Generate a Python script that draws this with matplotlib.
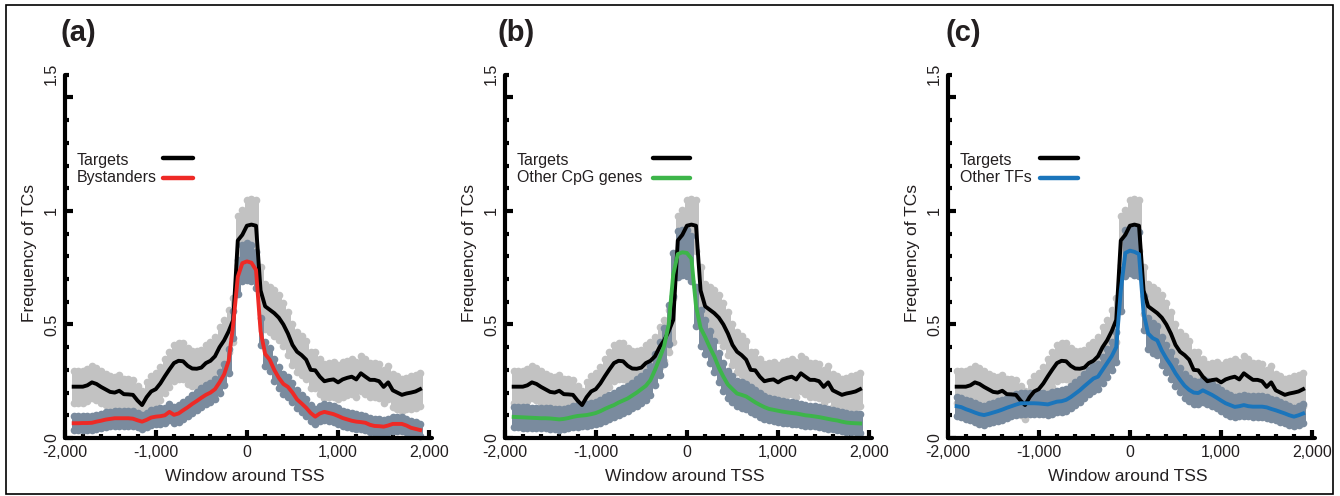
import numpy as np
import matplotlib
matplotlib.use('Agg')
import matplotlib.pyplot as plt
from matplotlib.patches import Rectangle

plt.rcParams['font.family'] = ['Liberation Sans', 'DejaVu Sans']

# 50 bp bins around the TSS
window = np.arange(-1900, 1901, 50)

targets = [0.226, 0.226, 0.226, 0.232, 0.245, 0.238, 0.225, 0.214, 0.203, 0.200,
           0.208, 0.193, 0.192, 0.190, 0.165, 0.145, 0.180, 0.205, 0.215, 0.240,
           0.272, 0.302, 0.330, 0.340, 0.338, 0.318, 0.306, 0.305, 0.310, 0.330,
           0.340, 0.360, 0.400, 0.430, 0.470, 0.520, 0.870, 0.895, 0.935, 0.940,
           0.935, 0.650, 0.580, 0.565, 0.550, 0.530, 0.500, 0.460, 0.410, 0.380,
           0.365, 0.345, 0.300, 0.298, 0.270, 0.250, 0.255, 0.258, 0.245, 0.258,
           0.265, 0.270, 0.258, 0.285, 0.270, 0.256, 0.256, 0.250, 0.225, 0.245,
           0.210, 0.200, 0.190, 0.196, 0.200, 0.205, 0.215]
targets_err = [0.070, 0.070, 0.070, 0.070, 0.070, 0.070, 0.070, 0.068, 0.068, 0.068,
               0.068, 0.066, 0.066, 0.066, 0.064, 0.062, 0.066, 0.068, 0.070, 0.072,
               0.075, 0.078, 0.080, 0.080, 0.080, 0.078, 0.078, 0.078, 0.078, 0.080,
               0.082, 0.085, 0.088, 0.090, 0.092, 0.095, 0.110, 0.110, 0.112, 0.112,
               0.112, 0.105, 0.100, 0.100, 0.100, 0.098, 0.096, 0.094, 0.090, 0.088,
               0.086, 0.084, 0.080, 0.080, 0.078, 0.076, 0.076, 0.076, 0.075, 0.076,
               0.076, 0.077, 0.076, 0.078, 0.077, 0.076, 0.076, 0.075, 0.073, 0.074,
               0.072, 0.071, 0.070, 0.070, 0.071, 0.071, 0.072]

bystanders = [0.065, 0.065, 0.066, 0.066, 0.067, 0.072, 0.076, 0.081, 0.084, 0.087,
              0.087, 0.087, 0.087, 0.085, 0.078, 0.072, 0.080, 0.090, 0.094, 0.096,
              0.100, 0.115, 0.102, 0.108, 0.122, 0.135, 0.150, 0.163, 0.177, 0.190,
              0.200, 0.215, 0.245, 0.280, 0.340, 0.500, 0.710, 0.770, 0.778, 0.772,
              0.740, 0.470, 0.370, 0.345, 0.300, 0.265, 0.238, 0.225, 0.200, 0.170,
              0.152, 0.133, 0.110, 0.094, 0.108, 0.115, 0.110, 0.105, 0.097, 0.088,
              0.082, 0.076, 0.072, 0.070, 0.067, 0.058, 0.053, 0.052, 0.050, 0.055,
              0.062, 0.062, 0.062, 0.055, 0.045, 0.040, 0.035]
bystanders_err = [0.030, 0.030, 0.030, 0.030, 0.030, 0.031, 0.031, 0.032, 0.032, 0.032,
                  0.032, 0.032, 0.032, 0.032, 0.031, 0.031, 0.032, 0.033, 0.033, 0.034,
                  0.034, 0.035, 0.035, 0.036, 0.037, 0.038, 0.039, 0.040, 0.041, 0.042,
                  0.043, 0.044, 0.046, 0.048, 0.052, 0.060, 0.075, 0.080, 0.082, 0.080,
                  0.078, 0.060, 0.052, 0.050, 0.048, 0.046, 0.044, 0.043, 0.042, 0.040,
                  0.039, 0.037, 0.035, 0.034, 0.035, 0.035, 0.035, 0.034, 0.034, 0.033,
                  0.033, 0.032, 0.032, 0.032, 0.031, 0.030, 0.030, 0.030, 0.030, 0.030,
                  0.030, 0.030, 0.030, 0.030, 0.029, 0.029, 0.028]

cpg = [0.093, 0.092, 0.091, 0.090, 0.089, 0.088, 0.087, 0.087, 0.086, 0.084,
       0.082, 0.084, 0.088, 0.093, 0.097, 0.099, 0.101, 0.105, 0.110, 0.118,
       0.128, 0.137, 0.145, 0.156, 0.165, 0.174, 0.187, 0.200, 0.215, 0.230,
       0.255, 0.300, 0.350, 0.405, 0.500, 0.720, 0.810, 0.818, 0.815, 0.790,
       0.580, 0.485, 0.445, 0.400, 0.360, 0.310, 0.270, 0.235, 0.215, 0.196,
       0.190, 0.183, 0.170, 0.157, 0.146, 0.136, 0.128, 0.124, 0.120, 0.116,
       0.113, 0.110, 0.108, 0.104, 0.100, 0.098, 0.095, 0.092, 0.088, 0.084,
       0.080, 0.077, 0.072, 0.068, 0.066, 0.065, 0.064]
cpg_err = [0.045, 0.045, 0.045, 0.045, 0.045, 0.045, 0.045, 0.045, 0.045, 0.045,
           0.045, 0.045, 0.046, 0.046, 0.047, 0.047, 0.048, 0.048, 0.049, 0.050,
           0.051, 0.052, 0.053, 0.054, 0.055, 0.056, 0.057, 0.058, 0.060, 0.062,
           0.064, 0.068, 0.072, 0.078, 0.085, 0.095, 0.100, 0.100, 0.100, 0.098,
           0.085, 0.078, 0.074, 0.070, 0.068, 0.065, 0.062, 0.060, 0.058, 0.057,
           0.056, 0.055, 0.054, 0.053, 0.052, 0.051, 0.050, 0.049, 0.048, 0.048,
           0.047, 0.047, 0.046, 0.046, 0.045, 0.045, 0.044, 0.044, 0.043, 0.043,
           0.042, 0.042, 0.041, 0.041, 0.040, 0.040, 0.040]

tfs = [0.140, 0.136, 0.127, 0.120, 0.112, 0.105, 0.101, 0.106, 0.112, 0.118,
       0.125, 0.133, 0.140, 0.147, 0.153, 0.153, 0.153, 0.153, 0.152, 0.150,
       0.148, 0.154, 0.160, 0.162, 0.168, 0.180, 0.195, 0.210, 0.228, 0.245,
       0.262, 0.270, 0.300, 0.330, 0.360, 0.400, 0.650, 0.815, 0.825, 0.820,
       0.810, 0.550, 0.460, 0.440, 0.430, 0.385, 0.350, 0.320, 0.285, 0.256,
       0.230, 0.212, 0.200, 0.198, 0.210, 0.200, 0.190, 0.178, 0.165, 0.153,
       0.145, 0.137, 0.140, 0.145, 0.140, 0.138, 0.138, 0.138, 0.135, 0.128,
       0.122, 0.115, 0.108, 0.100, 0.094, 0.100, 0.108]
tfs_err = [0.042, 0.042, 0.042, 0.042, 0.042, 0.042, 0.042, 0.042, 0.043, 0.043,
           0.044, 0.044, 0.045, 0.045, 0.046, 0.046, 0.046, 0.046, 0.046, 0.046,
           0.046, 0.047, 0.047, 0.048, 0.048, 0.049, 0.050, 0.051, 0.052, 0.053,
           0.054, 0.055, 0.057, 0.060, 0.062, 0.066, 0.090, 0.100, 0.100, 0.100,
           0.098, 0.075, 0.068, 0.066, 0.065, 0.062, 0.060, 0.058, 0.056, 0.054,
           0.052, 0.051, 0.050, 0.050, 0.050, 0.050, 0.049, 0.048, 0.047, 0.046,
           0.046, 0.045, 0.045, 0.046, 0.045, 0.045, 0.045, 0.045, 0.045, 0.044,
           0.044, 0.043, 0.042, 0.041, 0.040, 0.041, 0.042]

panel_tags = ['(a)', '(b)', '(c)']
other_names = ['Bystanders', 'Other CpG genes', 'Other TFs']
other_vals = [bystanders, cpg, tfs]
other_errs = [bystanders_err, cpg_err, tfs_err]
other_colors = ['#EE2A26', '#3DB54A', '#1B75BB']

band_gray = '#C2C2C2'
band_slate = '#7A8B9E'
txt = '#231F20'

W, H = 1340, 496
fig = plt.figure(figsize=(W / 100, H / 100), dpi=100)

# pixel layout of panel (a); panels (b), (c) are shifted right
ax_left_px, ax_w_px = 50.9, 392.0
ax_top_px, ax_h_px = 56.6, 388.2
shifts = [0, 440, 883]
legend_line_x = [(0.286, 0.362), (0.413, 0.508), (0.271, 0.368)]
tag_x_px = [78, 516, 963]


def band(ax, y, e, color):
    y = np.asarray(y)
    e = np.asarray(e)
    ax.vlines(window, y - e, y + e, color=color, lw=3.6, zorder=2)
    ax.plot(window, y + e, 'o', color=color, ms=5.5, mec='none', zorder=2)
    ax.plot(window, y - e, 'o', color=color, ms=5.5, mec='none', zorder=2)


for i in range(3):
    left = (ax_left_px + shifts[i]) / W
    bottom = 1 - (ax_top_px + ax_h_px) / H
    ax = fig.add_axes([left, bottom, ax_w_px / W, ax_h_px / H])
    ax.set_xlim(-2150, 2150)
    ax.set_ylim(-0.03, 1.68)

    band(ax, targets, targets_err, band_gray)
    band(ax, other_vals[i], other_errs[i], band_slate)
    ax.plot(window, targets, color='black', lw=2.8, zorder=3, solid_joinstyle='round')
    ax.plot(window, other_vals[i], color=other_colors[i], lw=2.8, zorder=4,
            solid_joinstyle='round')

    # R-style axes
    for s in ['top', 'right']:
        ax.spines[s].set_visible(False)
    ax.spines['left'].set_position(('data', -2000))
    ax.spines['bottom'].set_position(('data', 0))
    ax.spines['left'].set_bounds(0, 1.6)
    ax.spines['bottom'].set_bounds(-2000, 2025)
    for s in ['left', 'bottom']:
        ax.spines[s].set_linewidth(3)
        ax.spines[s].set_capstyle('round')

    ax.set_xticks([-2000, -1000, 0, 1000, 2000])
    ax.set_xticklabels(['-2,000', '-1,000', '0', '1,000', '2,000'])
    ax.set_xticks(np.arange(-2000, 2001, 200), minor=True)
    ax.set_yticks([0, 0.5, 1.0, 1.5])
    ax.set_yticklabels(['0', '0.5', '1', ''], rotation=90, va='center')
    ax.set_yticks(np.arange(0, 1.61, 0.1), minor=True)
    ax.tick_params(which='both', direction='in', width=3, color='black')
    ax.tick_params(which='major', length=6, labelsize=11.5, labelcolor=txt)
    ax.tick_params(which='minor', length=3)
    ax.tick_params(axis='x', which='major', pad=5)
    ax.tick_params(axis='y', which='major', pad=4)
    ax.annotate('1.5', xy=(-2000, 1.605), xytext=(-4, 0), textcoords='offset points',
                rotation=90, ha='right', va='center', fontsize=11.5, color=txt,
                annotation_clip=False)

    ax.set_xlabel('Window around TSS', fontsize=12.5, color=txt)
    ax.xaxis.set_label_coords(0.494, -0.062)
    ax.set_ylabel('Frequency of TCs', fontsize=12.5, color=txt)
    ax.yaxis.set_label_coords(-0.036, 0.494)

    # legend: text on the left, line on the right
    ax.text(0.066, 0.732, 'Targets', transform=ax.transAxes, fontsize=11.5,
            color=txt, va='center', ha='left')
    ax.text(0.066, 0.688, other_names[i], transform=ax.transAxes, fontsize=11.5,
            color=txt, va='center', ha='left')
    x0, x1 = legend_line_x[i]
    ax.plot([x0, x1], [0.739, 0.739], transform=ax.transAxes, color='black', lw=3.2,
            solid_capstyle='round', clip_on=False)
    ax.plot([x0, x1], [0.688, 0.688], transform=ax.transAxes, color=other_colors[i],
            lw=3.2, solid_capstyle='round', clip_on=False)

    fig.text(tag_x_px[i] / W, 1 - 33 / H, panel_tags[i], fontsize=21,
             fontweight='bold', color=txt, ha='center', va='center')

fig.add_artist(Rectangle((6 / W, 1 - 494 / H), 1327 / W, 489 / H,
                         transform=fig.transFigure, fill=False, lw=1.2, color='black'))

plt.savefig('out.png', dpi=100)
